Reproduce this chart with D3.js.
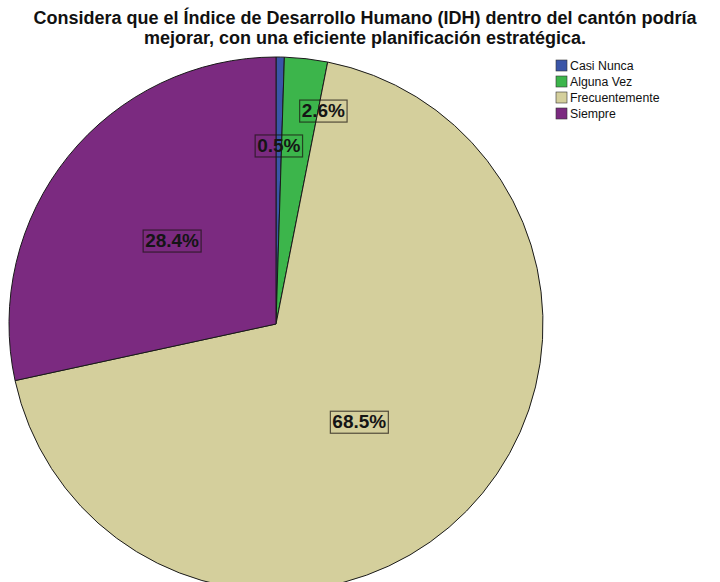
<!DOCTYPE html>
<html>
<head>
<meta charset="utf-8">
<script src="https://cdn.jsdelivr.net/npm/d3@7/dist/d3.min.js"></script>
<style>
  html, body { margin: 0; padding: 0; background: #fff; }
  svg { display: block; }
</style>
</head>
<body>
<svg id="chart" width="720" height="582"></svg>
<script>
// Survey answers, in the order they are drawn clockwise from 12 o'clock
const categories = ["Casi Nunca", "Alguna Vez", "Frecuentemente", "Siempre"];
const percents   = [0.5, 2.6, 68.5, 28.4];
const colors     = ["#3a55a8", "#3cb54b", "#d4cf9c", "#7b2a80"];
const titleLines = [
  "Considera que el Índice de Desarrollo Humano (IDH) dentro del cantón podría",
  "mejorar, con una eficiente planificación estratégica."
];

// Label placement: radius as a fraction of the pie radius, plus an angular nudge (degrees)
const labelRadius = [0.67, 0.82, 0.48, 0.50];
const labelNudge  = [0, 6, 5, 0];

const svg = d3.select("#chart");
const cx = 276, cy = 324, R = 267;
const FONT = "Liberation Sans, Arial, sans-serif";

// Title
svg.append("g")
  .selectAll("text")
  .data(titleLines)
  .join("text")
  .attr("x", 365)
  .attr("y", (d, i) => 24 + i * 20)
  .attr("text-anchor", "middle")
  .attr("font-family", FONT)
  .attr("font-size", 18)
  .attr("font-weight", "bold")
  .attr("fill", "#111")
  .text(d => d);

// Pie
const pie = d3.pie().sort(null).value(d => d);
const arcs = pie(percents);
const arc = d3.arc().innerRadius(0).outerRadius(R);

const g = svg.append("g").attr("transform", `translate(${cx},${cy})`);
g.selectAll("path")
  .data(arcs)
  .join("path")
  .attr("d", arc)
  .attr("fill", (d, i) => colors[i])
  .attr("stroke", "#1a1a1a")
  .attr("stroke-width", 1);

// Percentage labels with framed boxes
const fmt = d3.format(".1f");
const lab = g.selectAll("g.lab")
  .data(arcs)
  .join("g")
  .attr("class", "lab")
  .attr("transform", (d, i) => {
    const a = (d.startAngle + d.endAngle) / 2 + labelNudge[i] * Math.PI / 180;
    const r = R * labelRadius[i];
    return `translate(${r * Math.sin(a)},${-r * Math.cos(a)})`;
  });

lab.append("text")
  .attr("text-anchor", "middle")
  .attr("dy", "0.36em")
  .attr("font-family", FONT)
  .attr("font-size", 19)
  .attr("font-weight", "bold")
  .attr("fill", "#151515")
  .text(d => fmt(d.data) + "%");

lab.each(function() {
  const t = d3.select(this).select("text");
  const b = t.node().getBBox();
  d3.select(this).insert("rect", "text")
    .attr("x", b.x - 2)
    .attr("y", b.y)
    .attr("width", b.width + 4)
    .attr("height", b.height + 1)
    .attr("fill", "none")
    .attr("stroke", "rgba(25,20,15,0.7)")
    .attr("stroke-width", 1.2);
});

// Legend
const legend = svg.append("g").attr("transform", "translate(556,60)");
const row = legend.selectAll("g")
  .data(categories)
  .join("g")
  .attr("transform", (d, i) => `translate(0,${i * 16})`);
row.append("rect")
  .attr("width", 11).attr("height", 11)
  .attr("fill", (d, i) => colors[i])
  .attr("stroke", "#333").attr("stroke-width", 0.6);
row.append("text")
  .attr("x", 14).attr("y", 10)
  .attr("font-family", FONT)
  .attr("font-size", 12.3)
  .attr("fill", "#111")
  .text(d => d);
</script>
</body>
</html>
